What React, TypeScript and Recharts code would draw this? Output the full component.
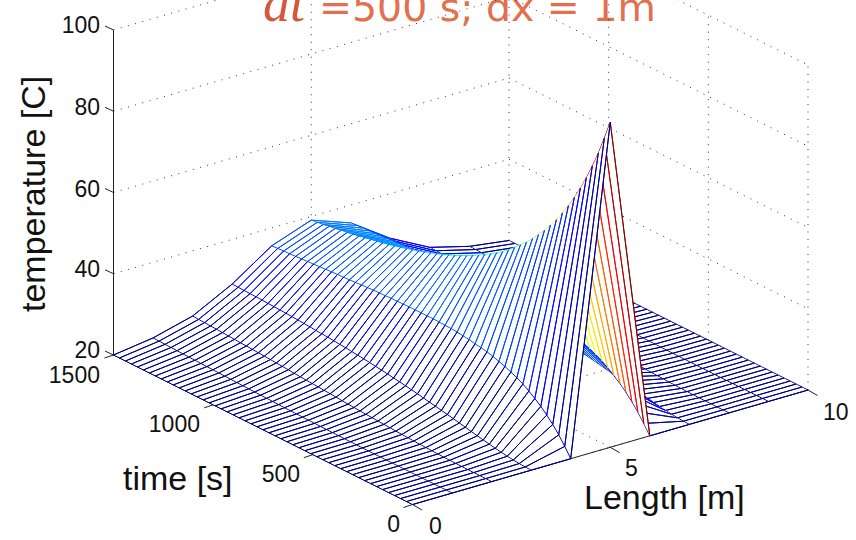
import React from 'react';
import { ScatterChart, Scatter, XAxis, YAxis } from 'recharts';

const lengthNodes = [0, 1, 2, 3, 4, 5, 6, 7, 8, 9, 10];
const timeSteps = [
  0, 30, 60, 90, 120, 150, 180, 210, 240, 270, 300, 330, 360, 390, 420, 450, 480,
  510, 540, 570, 600, 630, 660, 690, 720, 750, 780, 810, 840, 870, 900, 930, 960,
  990, 1020, 1050, 1080, 1110, 1140, 1170, 1200, 1230, 1260, 1290, 1320, 1350,
  1380, 1410, 1440, 1470, 1500,
];

// temperature along each node of the rod, one value per time step
const tempEnd = [
  20, 20, 20, 20, 20, 20, 20, 20, 20, 20, 20, 20, 20, 20, 20, 20, 20, 20, 20, 20, 20, 20, 20, 20, 20, 20,
  20, 20, 20, 20, 20, 20, 20, 20, 20, 20, 20, 20, 20, 20, 20, 20, 20, 20, 20, 20, 20, 20, 20, 20, 20,
];
const tempX1 = [
  20, 20, 20, 20, 20, 20, 20, 20.01, 20.01, 20.01, 20.02, 20.03, 20.03, 20.04, 20.05, 20.06, 20.08,
  20.1, 20.12, 20.14, 20.16, 20.18, 20.2, 20.23, 20.26, 20.29, 20.32, 20.35, 20.38, 20.42, 20.46,
  20.5, 20.54, 20.58, 20.62, 20.66, 20.7, 20.75, 20.8, 20.85, 20.89, 20.94, 20.98, 21.03, 21.08,
  21.13, 21.18, 21.23, 21.28, 21.33, 21.38,
];
const tempX2 = [
  20, 20, 20, 20.01, 20.02, 20.04, 20.06, 20.09, 20.12, 20.17, 20.22, 20.28, 20.34, 20.41, 20.48,
  20.56, 20.65, 20.74, 20.83, 20.92, 21.01, 21.1, 21.2, 21.3, 21.4, 21.5, 21.65, 21.75, 21.85, 21.95,
  22.05, 22.15, 22.25, 22.35, 22.5, 22.6, 22.7, 22.8, 22.9, 23.0, 23.1, 23.2, 23.25, 23.35, 23.45,
  23.55, 23.65, 23.7, 23.8, 23.85, 23.95,
];
const tempX3 = [
  20, 20.04, 20.14, 20.29, 20.48, 20.71, 20.96, 21.24, 21.53, 21.83, 22.13, 22.45, 22.77, 23.08,
  23.38, 23.67, 23.95, 24.23, 24.5, 24.8, 25.05, 25.3, 25.55, 25.75, 26.0, 26.2, 26.4, 26.6, 26.8,
  26.95, 27.1, 27.3, 27.4, 27.55, 27.7, 27.8, 27.9, 28.05, 28.15, 28.25, 28.35, 28.45, 28.5, 28.6,
  28.65, 28.75, 28.8, 28.85, 28.9, 28.95, 29.0,
];
const tempX4 = [
  20, 22.3, 24.4, 26.2, 27.8, 29.2, 30.4, 31.5, 32.5, 33.3, 34.0, 34.6, 35.1, 35.6, 36.0, 36.3, 36.5,
  36.8, 37.0, 37.2, 37.3, 37.4, 37.45, 37.5, 37.5, 37.5, 37.5, 37.5, 37.45, 37.4, 37.4, 37.3, 37.25,
  37.2, 37.1, 37.0, 36.9, 36.8, 36.7, 36.65, 36.55, 36.45, 36.35, 36.25, 36.15, 36.05, 35.95, 35.85,
  35.8, 35.7, 35.6,
];
const tempX5 = [
  100, 95.3, 90.9, 87.0, 83.4, 80.1, 77.1, 74.3, 71.8, 69.4, 67.3, 65.3, 63.5, 61.8, 60.2, 58.8, 57.4,
  56.1, 54.9, 53.9, 52.9, 52.0, 51.1, 50.3, 49.5, 48.8, 48.1, 47.5, 46.9, 46.3, 45.8, 45.3, 44.8,
  44.4, 43.9, 43.5, 43.1, 42.7, 42.4, 42.0, 41.7, 41.4, 41.1, 40.8, 40.5, 40.3, 40.0, 39.8, 39.5,
  39.3, 39.1,
];
const nodeTemps = [tempEnd, tempX1, tempX2, tempX3, tempX4, tempX5, tempX4, tempX3, tempX2, tempX1, tempEnd];

const tempTicks = [20, 40, 60, 80, 100];
const timeTicks = [0, 500, 1000, 1500];
const lengthTicks = [0, 5, 10];

type Pt = { px: number; py: number };
type Line = { data: Pt[]; stroke: string; fill?: string; dash?: string; width?: number };

// oblique view of the box, same as the picture's camera
const project = (x: number, t: number, T: number): Pt => ({
  px: 412.5 + 39.55 * x - (299 / 1500) * t,
  py: 504.5 - 11.45 * x - (149.5 / 1500) * t - (T - 20) * 4.0625,
});

const clamp01 = (v: number) => Math.max(0, Math.min(1, v));

// 64 level jet, flat per vertex like matlab's mesh
const jetLevel = (T: number) => Math.min(63, Math.max(0, Math.floor(((T - 20) / 80) * 64)));
const jetColor = (level: number) => {
  const v = (level + 0.5) / 64;
  const r = clamp01(1.5 - Math.abs(4 * v - 3));
  const g = clamp01(1.5 - Math.abs(4 * v - 2));
  const b = clamp01(1.5 - Math.abs(4 * v - 1));
  return `rgb(${Math.round(r * 255)},${Math.round(g * 255)},${Math.round(b * 255)})`;
};

const gridLines = (): Line[] => {
  const dotted = (a: Pt, b: Pt): Line => ({ data: [a, b], stroke: '#333', dash: '1 6.5', width: 1 });
  const out: Line[] = [];
  const tMax = timeSteps[timeSteps.length - 1];
  const xMax = lengthNodes[lengthNodes.length - 1];
  tempTicks.slice(1).forEach((T) => {
    out.push(dotted(project(0, tMax, T), project(xMax, tMax, T)));
    out.push(dotted(project(xMax, tMax, T), project(xMax, 0, T)));
  });
  lengthTicks.slice(1).forEach((x) => {
    out.push(dotted(project(x, tMax, 20), project(x, tMax, 100)));
    out.push(dotted(project(x, 0, 20), project(x, tMax, 20)));
  });
  timeTicks.slice(0, 3).forEach((t) => {
    out.push(dotted(project(xMax, t, 20), project(xMax, t, 100)));
    out.push(dotted(project(0, t, 20), project(xMax, t, 20)));
  });
  out.push(dotted(project(0, tMax, 20), project(xMax, tMax, 20)));
  return out;
};

const axisLines = (): Line[] => {
  const solid = (a: Pt, b: Pt): Line => ({ data: [a, b], stroke: '#222', width: 1 });
  const tick = (a: Pt, dx: number, dy: number) => solid(a, { px: a.px + dx, py: a.py + dy });
  const tMax = timeSteps[timeSteps.length - 1];
  const xMax = lengthNodes[lengthNodes.length - 1];
  const out: Line[] = [
    solid(project(0, tMax, 20), project(0, tMax, 100)),
    solid(project(0, tMax, 20), project(0, 0, 20)),
    solid(project(0, 0, 20), project(xMax, 0, 20)),
  ];
  tempTicks.forEach((T) => out.push(tick(project(0, tMax, T), -8.5, -4)));
  timeTicks.forEach((t) => out.push(tick(project(0, t, 20), -9, 3)));
  lengthTicks.forEach((x) => out.push(tick(project(x, 0, 20), 9.5, 5.5)));
  return out;
};

// one strip between two rod nodes: white underlay, then its edges grouped by colour level
const stripLines = (i: number): Line[] => {
  const out: Line[] = [];
  const last = timeSteps.length - 1;
  const near = timeSteps.map((t, j) => project(lengthNodes[i], t, nodeTemps[i][j]));
  const far = timeSteps.map((t, j) => project(lengthNodes[i + 1], t, nodeTemps[i + 1][j]));
  const inset = far.map((b, j) => {
    const a = near[j];
    const len = Math.hypot(b.px - a.px, b.py - a.py);
    const s = 1 - Math.min(0.3, 0.8 / len);
    return { px: a.px + (b.px - a.px) * s, py: a.py + (b.py - a.py) * s };
  });
  out.push({ data: [...near, ...inset.slice().reverse()], stroke: 'none', fill: '#fff' });

  let run: Pt[] = [];
  let runLevel = -1;
  for (let j = last; j >= 0; j--) {
    const level = jetLevel(nodeTemps[i][j]);
    if (level !== runLevel) {
      if (run.length) out.push({ data: run, stroke: jetColor(runLevel) });
      run = j < last ? [near[j + 1]] : [];
      runLevel = level;
    }
    run.push(near[j], far[j], near[j]);
  }
  out.push({ data: run, stroke: jetColor(runLevel) });
  return out;
};

const farEdge: Line = {
  data: timeSteps.map((t, j) => project(10, t, nodeTemps[10][j])),
  stroke: jetColor(0),
};

// painted back to front
const allLines: Line[] = [
  ...gridLines(),
  ...axisLines(),
  farEdge,
  ...[9, 8, 7, 6, 5, 4, 3, 2, 1, 0].flatMap(stripLines),
];

const lineStyle = (l: Line) => {
  if (l.dash) return { stroke: l.stroke, strokeWidth: l.width, strokeDasharray: l.dash };
  if (l.fill) return { stroke: l.stroke, fill: l.fill };
  return { stroke: l.stroke, strokeWidth: l.width ?? 1 };
};

const sans = '"Liberation Sans", Arial, sans-serif';

export default function App() {
  return (
    <div style={{ position: 'absolute', left: 0, top: 0, width: 856, height: 540, overflow: 'hidden', background: '#fff' }}>
      <ScatterChart width={856} height={540} margin={{ top: 0, right: 0, bottom: 0, left: 0 }}>
        <XAxis type="number" dataKey="px" domain={[0, 856]} hide allowDataOverflow />
        <YAxis type="number" dataKey="py" domain={[0, 540]} reversed hide allowDataOverflow />
        {allLines.map((l, k) => (
          <Scatter
            key={k}
            data={l.data}
            shape={() => null}
            isAnimationActive={false}
            lineJointType="linear"
            line={lineStyle(l)}
          />
        ))}

        <text x={263} y={21} fontFamily='"Liberation Serif", serif' fontStyle="italic" fontSize={54} fill="#D4593A">dt</text>
        <text x={319} y={21} fontFamily='"DejaVu Sans", sans-serif' fontSize={39.4} fill="#E2704F">=500 s; dx = 1m</text>

        <g fontFamily={sans} fontSize={23} fill="#111">
          <text x={100} y={33} textAnchor="end">100</text>
          <text x={100} y={115} textAnchor="end">80</text>
          <text x={100} y={197} textAnchor="end">60</text>
          <text x={100} y={277} textAnchor="end">40</text>
          <text x={100} y={358} textAnchor="end">20</text>
          <text x={100} y={383} textAnchor="end">1500</text>
          <text x={200} y={432} textAnchor="end">1000</text>
          <text x={300} y={482} textAnchor="end">500</text>
          <text x={400} y={532} textAnchor="end">0</text>
          <text x={429} y={534}>0</text>
          <text x={625} y={476}>5</text>
          <text x={823} y={420}>10</text>
        </g>
        <g fontFamily={sans} fontSize={34} fill="#111">
          <text x={123} y={490}>time [s]</text>
          <text x={584} y={509}>Length [m]</text>
          <text transform="translate(45,312) rotate(-90)">temperature [C]</text>
        </g>
      </ScatterChart>
    </div>
  );
}
